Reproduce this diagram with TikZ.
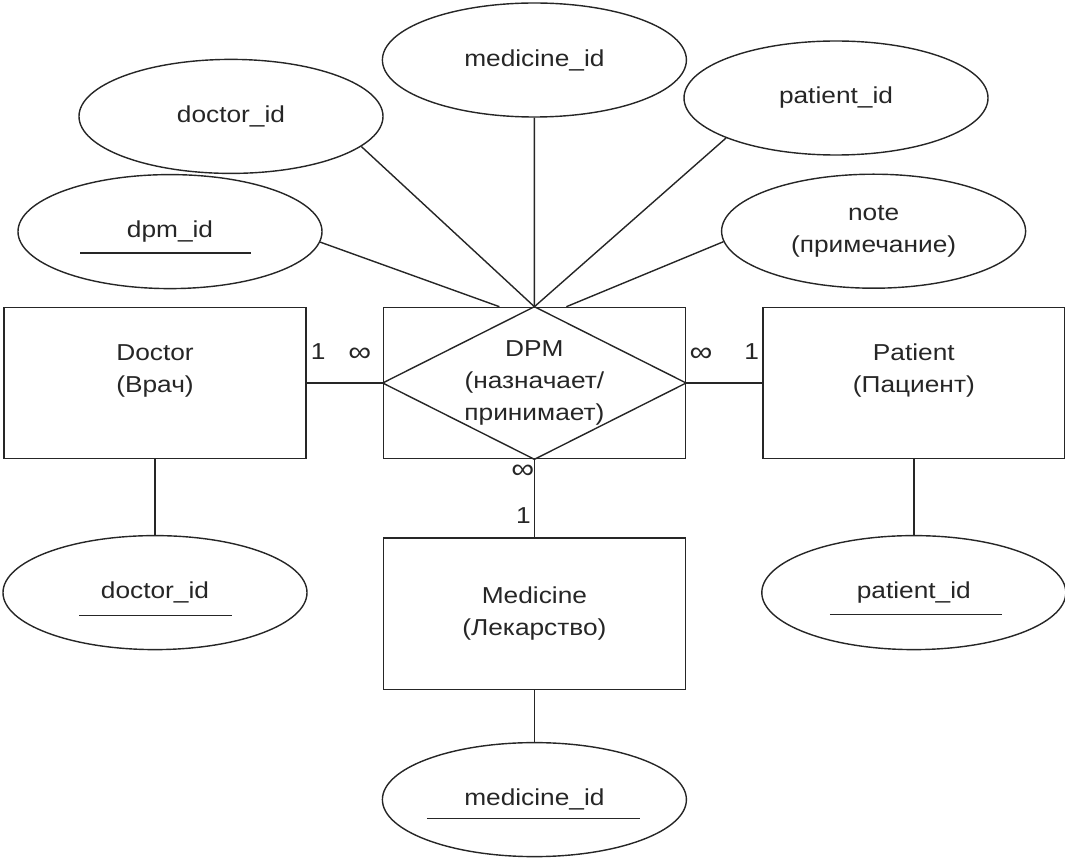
\documentclass[tikz,border=0pt]{standalone}
\usepackage{fontspec}
\setmainfont{Liberation Sans}[FakeStretch=1.14]
\usetikzlibrary{shapes.geometric,positioning}

\begin{document}
\begin{tikzpicture}[
  ent/.style={draw, rectangle, minimum width=7.55cm, minimum height=3.78cm,
    inner sep=0pt, align=center},
  lifted/.style={execute at end node={\rule[-0.72cm]{0pt}{0pt}}},
  attr/.style={draw, ellipse, minimum width=7.6cm, minimum height=2.85cm,
    inner sep=0pt, align=center},
  card/.style={inner sep=0pt},
  many/.style={card, font=\fontsize{20pt}{22pt}\selectfont},
  every node/.style={font=\fontsize{16.4pt}{22.8pt}\selectfont},
  line width=1pt, color=black!85
]
  \useasboundingbox (0,0) rectangle (26.625,-21.425);

  % entities and the relationship
  \node[ent, lifted] (doctor) at (3.875,-9.575) {Doctor\\(Врач)};
  \node[ent, right=1.9cm of doctor] (dpm) {DPM\\(назначает/\\принимает)};
  \node[ent, lifted, right=1.9cm of dpm] (patient) {Patient\\(Пациент)};
  \node[ent, below=1.95cm of dpm] (medicine) {Medicine\\(Лекарство)};
  \draw (dpm.north) -- (dpm.east) -- (dpm.south) -- (dpm.west) -- cycle;

  % keys of the entities
  \node[attr, below=1.89cm of doctor] (doctorkey) {doctor\_id};
  \node[attr, below=1.89cm of patient] (patientkey) {patient\_id};
  \node[attr, below=1.3cm of medicine] (medicinekey) {medicine\_id};

  % attributes of DPM
  \node[attr] (dpmid) at (4.25,-5.79) {dpm\_id};
  \node[attr] (doctorid) at (5.775,-2.91) {doctor\_id};
  \node[attr] (medicineid) at (13.36,-1.5) {medicine\_id};
  \node[attr] (patientid) at (20.9,-2.45) {patient\_id};
  \node[attr] (note) at (21.84,-5.78) {note\\(примечание)};

  % underlined keys
  \draw ([shift={(-2.25,-0.54)}]dpmid.center) -- ([shift={(2.025,-0.54)}]dpmid.center);
  \draw ([shift={(-1.9,-0.575)}]doctorkey.center) -- ([shift={(1.925,-0.575)}]doctorkey.center);
  \draw ([shift={(-2.1,-0.55)}]patientkey.center) -- ([shift={(2.2,-0.55)}]patientkey.center);
  \draw ([shift={(-2.69,-0.475)}]medicinekey.center) -- ([shift={(2.64,-0.475)}]medicinekey.center);

  \draw (doctor) -- (dpm);
  \draw (dpm) -- (patient);
  \draw (dpm) -- (medicine);
  \draw (doctor) -- (doctorkey);
  \draw (patient) -- (patientkey);
  \draw (medicine) -- (medicinekey);

  \draw (dpmid.-4) -- ([xshift=-0.875cm]dpm.north);
  \draw (doctorid.-13) -- (dpm.north);
  \draw (medicineid) -- (dpm.north);
  \draw (patientid.200) -- (dpm.north);
  \draw (note.184) -- ([xshift=0.8cm]dpm.north);

  % cardinalities
  \node[card] (c-doc) at ([shift={(0.29,0.775)}]doctor.east) {1};
  \node[many] (c-dpm-l) at ([shift={(-0.575,0.7)}]dpm.west) {∞};
  \node[many] (c-dpm-r) at ([shift={(0.375,0.7)}]dpm.east) {∞};
  \node[card] (c-pat) at ([shift={(-0.26,0.775)}]patient.west) {1};
  \node[many] (c-dpm-b) at ([shift={(-0.29,-0.31)}]dpm.south) {∞};
  \node[card] (c-med) at ([shift={(-0.275,0.54)}]medicine.north) {1};
\end{tikzpicture}
\end{document}
